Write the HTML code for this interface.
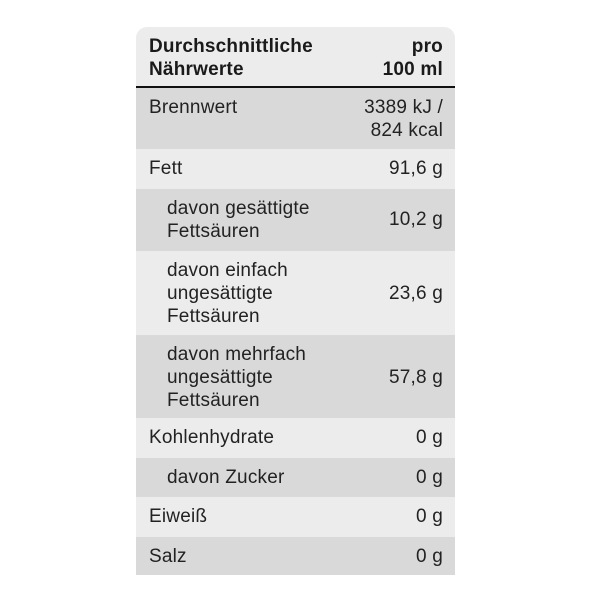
<!DOCTYPE html>
<html><head><meta charset="utf-8"><style>
html,body{margin:0;padding:0;background:#fff;width:600px;height:600px;overflow:hidden}
.t{position:absolute;left:136px;top:27px;width:319px;height:548px;border-radius:11px 11px 0 0;overflow:hidden;font-family:"Liberation Sans",sans-serif;font-size:19px;line-height:23px;color:#222;letter-spacing:0.2px}
.r{position:absolute;left:0;width:319px;box-sizing:border-box;padding-top:8px}
.l{position:absolute;left:13px;top:8px}
.l.i{left:31px}
.v{position:absolute;right:12px;text-align:right}
.a{background:#d9d9d9}.b{background:#ececec}
.h{font-weight:bold;color:#1a1a1a}
</style></head><body>
<div class="t">
 <div class="r b h" style="top:0;height:59px"><div class="l">Durchschnittliche<br>Nährwerte</div><div class="v" style="top:8px">pro<br>100 ml</div></div>
 <div style="position:absolute;top:59px;left:0;width:319px;height:3px;background:#111"></div>
 <div class="r a" style="top:61px;height:61px"><div class="l">Brennwert</div><div class="v" style="top:8px">3389 kJ /<br>824 kcal</div></div>
 <div class="r b" style="top:122px;height:40px"><div class="l">Fett</div><div class="v" style="top:8px">91,6 g</div></div>
 <div class="r a" style="top:162px;height:62px"><div class="l i">davon gesättigte<br>Fettsäuren</div><div class="v" style="top:19px">10,2 g</div></div>
 <div class="r b" style="top:224px;height:84px"><div class="l i">davon einfach<br>ungesättigte<br>Fettsäuren</div><div class="v" style="top:31px">23,6 g</div></div>
 <div class="r a" style="top:308px;height:83px"><div class="l i">davon mehrfach<br>ungesättigte<br>Fettsäuren</div><div class="v" style="top:31px">57,8 g</div></div>
 <div class="r b" style="top:391px;height:40px"><div class="l">Kohlenhydrate</div><div class="v" style="top:8px">0 g</div></div>
 <div class="r a" style="top:431px;height:39px"><div class="l i">davon Zucker</div><div class="v" style="top:8px">0 g</div></div>
 <div class="r b" style="top:470px;height:40px"><div class="l">Eiweiß</div><div class="v" style="top:8px">0 g</div></div>
 <div class="r a" style="top:510px;height:38px"><div class="l">Salz</div><div class="v" style="top:8px">0 g</div></div>
</div>
</body></html>
